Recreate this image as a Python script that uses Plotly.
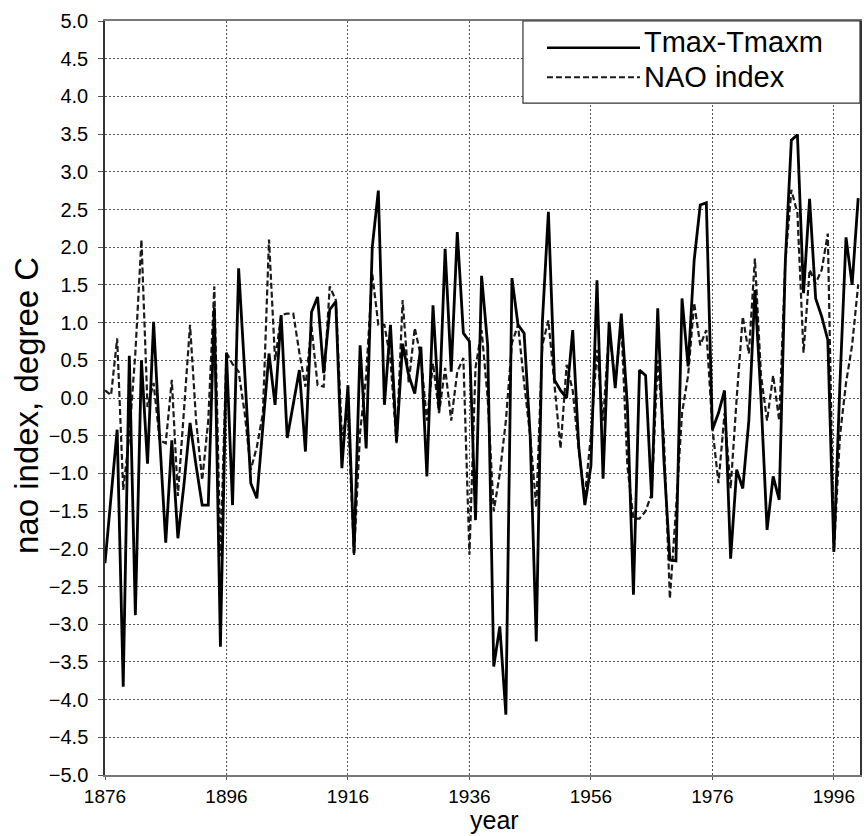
import plotly.graph_objects as go

years = list(range(1876, 2001))

tmax_anom = [
    -2.19, -1.30, -0.42, -3.83, 0.56, -2.88, 0.50, -0.87, 1.01, -0.53,
    -1.92, -0.56, -1.86, -1.15, -0.33, -0.90, -1.42, -1.42, 1.20, -3.30,
    0.60, -1.42, 1.72, 0.35, -1.13, -1.33, -0.37, 0.59, -0.09, 1.10,
    -0.53, -0.10, 0.37, -0.71, 1.14, 1.34, 0.33, 1.17, 1.28, -0.93,
    0.17, -2.06, 0.70, -0.67, 2.00, 2.75, -0.09, 0.97, -0.58, 0.72,
    0.30, 0.06, 0.68, -1.04, 1.23, -0.16, 1.98, 0.35, 2.20, 0.86,
    0.75, -1.62, 1.62, 0.70, -3.56, -3.03, -4.20, 1.59, 0.97, 0.86,
    -0.50, -3.23, 1.00, 2.47, 0.24, 0.10, 0.00, 0.90, -0.65, -1.42,
    -0.90, 1.56, -1.07, 1.01, 0.13, 1.12, -0.10, -2.61, 0.37, 0.30,
    -1.33, 1.19, -0.80, -2.15, -2.16, 1.32, 0.42, 1.83, 2.56, 2.59,
    -0.42, -0.20, 0.10, -2.13, -0.95, -1.20, -0.30, 1.43, 0.00, -1.75,
    -1.04, -1.35, 1.80, 3.42, 3.49, 1.39, 2.64, 1.32, 1.08, 0.77,
    -2.04, 0.20, 2.13, 1.50, 2.65,
]

nao_index = [
    0.10, 0.04, 0.79, -1.22, -0.50, 0.60, 2.10, -0.12, 0.20, -0.56,
    -0.60, 0.24, -1.30, -0.20, 0.97, -0.30, -1.09, -0.30, 1.48, -2.10,
    0.60, 0.45, 0.35, -0.20, -0.95, -0.65, -0.20, 2.10, 0.50, 1.10,
    1.12, 1.12, 0.60, 0.15, 0.95, 0.17, 0.15, 1.48, 1.30, -0.50,
    -0.20, -2.08, -0.45, 0.30, 1.65, 0.97, 0.97, 0.50, -0.60, 1.30,
    0.20, 0.93, 0.55, -0.30, 0.46, -0.20, 0.40, -0.30, 0.35, 0.53,
    -2.08, 0.40, 0.90, 0.00, -1.50, -1.00, -0.30, 0.73, 0.97, 0.20,
    -0.50, -1.45, 0.70, 1.03, 0.20, -0.67, 0.44, 0.10, -0.70, -1.30,
    -0.50, 0.64, -0.30, 0.90, 0.20, 1.00, -0.90, -1.60, -1.60, -1.50,
    -1.27, 0.50, -0.50, -2.66, -1.48, -0.20, 0.30, 1.26, 0.70, 0.90,
    -0.40, -1.13, -0.20, -1.20, 0.00, 1.08, 0.59, 1.85, 0.30, -0.30,
    0.30, -0.30, 1.80, 2.76, 2.45, 0.60, 1.70, 1.52, 1.70, 2.18,
    -2.04, -0.50, 0.20, 0.70, 1.50,
]

x_ticks = [1876, 1896, 1916, 1936, 1956, 1976, 1996]
series_names = ["Tmax-Tmaxm", "NAO index"]
x_title = "year"
y_title = "nao index, degree C"

FONT = "Liberation Sans, Arial, sans-serif"

fig = go.Figure()
fig.add_trace(go.Scatter(
    x=years, y=nao_index, mode="lines", name=series_names[1],
    line=dict(color="#1a1a1a", width=2.2, dash="6px,3px"), showlegend=False,
))
fig.add_trace(go.Scatter(
    x=years, y=tmax_anom, mode="lines", name=series_names[0],
    line=dict(color="black", width=2.8), showlegend=False,
))

# Manual legend box (long line samples like the original)
fig.add_shape(type="rect", xref="paper", yref="paper",
              x0=0.5536, x1=1.0, y0=0.8912, y1=1.0,
              line=dict(color="#333333", width=1.2), fillcolor="white", layer="above")
fig.add_shape(type="line", xref="paper", yref="paper",
              x0=0.5854, x1=0.7086, y0=0.9646, y1=0.9646,
              line=dict(color="black", width=2.4), layer="above")
fig.add_shape(type="line", xref="paper", yref="paper",
              x0=0.5854, x1=0.7086, y0=0.9254, y1=0.9254,
              line=dict(color="#1a1a1a", width=2.2, dash="6px,3px"), layer="above")
fig.add_annotation(xref="paper", yref="paper", x=0.7125, y=0.9715,
                   text=series_names[0], showarrow=False, xanchor="left", yanchor="middle",
                   font=dict(family=FONT, size=29, color="black"), borderpad=0)
fig.add_annotation(xref="paper", yref="paper", x=0.7125, y=0.9257,
                   text=series_names[1], showarrow=False, xanchor="left", yanchor="middle",
                   font=dict(family=FONT, size=29, color="black"), borderpad=0)

# Axis titles
fig.add_annotation(xref="paper", yref="paper", x=0.5165, y=-0.0790,
                   text=x_title, showarrow=False, xanchor="center", yanchor="bottom",
                   font=dict(family=FONT, size=25, color="black"), borderpad=0)
fig.add_annotation(xref="paper", yref="paper", x=-0.104, y=0.49,
                   text=y_title, showarrow=False, textangle=-90,
                   xanchor="center", yanchor="middle",
                   font=dict(family=FONT, size=33, color="black"))

fig.update_layout(
    width=867, height=836,
    margin=dict(l=105, r=7, t=21, b=61),
    paper_bgcolor="white", plot_bgcolor="white",
    font=dict(family=FONT, color="black"),
    xaxis=dict(
        range=[1876, 2000.3], tickmode="array", tickvals=x_ticks,
        ticktext=[str(v) for v in x_ticks],
        showgrid=True, gridcolor="#555555", griddash="2px,2px", gridwidth=1,
        showline=True, linecolor="#777777", linewidth=1.5, mirror=True,
        ticks="outside", ticklen=3, tickcolor="#555555",
        tickfont=dict(size=19, family=FONT), ticklabelstandoff=0,
        zeroline=False, automargin=False,
    ),
    yaxis=dict(
        range=[-5, 5], dtick=0.5, tick0=0, tickformat=".1f",
        showgrid=True, gridcolor="#555555", griddash="2px,2px", gridwidth=1,
        showline=True, linecolor="#333333", linewidth=1.5, mirror=True,
        ticks="outside", ticklen=5, tickcolor="#555555",
        tickfont=dict(size=20, family=FONT), ticklabelstandoff=6,
        zeroline=False, automargin=False,
    ),
)

fig.write_html("out.html")
